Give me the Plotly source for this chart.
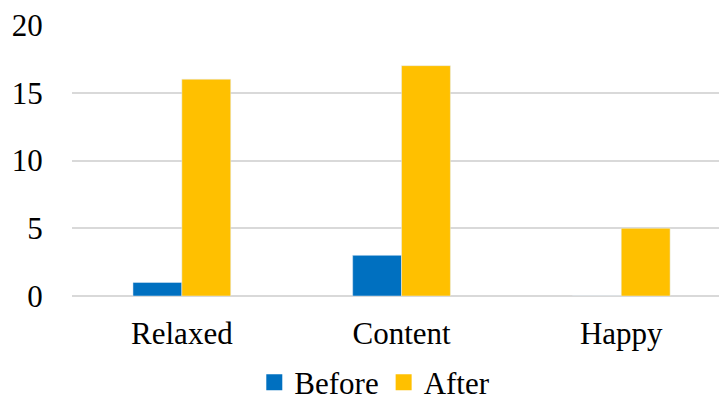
import plotly.graph_objects as go

categories = ["Relaxed", "Content", "Happy"]
before = [1, 3, 0]
after = [16, 17, 5]
y_ticks = [0, 5, 10, 15, 20]
series = [("Before", before, "#0070C0"), ("After", after, "#FFC000")]

font = dict(family="Liberation Serif", size=31, color="black")

fig = go.Figure()
for name, vals, col in series:
    fig.add_trace(go.Bar(name=name, x=categories, y=vals, marker_color=col, showlegend=False))
for name, vals, col in series:
    fig.add_trace(go.Scatter(name=name, x=[None], y=[None], mode="markers",
                             marker=dict(symbol="square", size=16, color=col), showlegend=True))

fig.update_layout(
    width=719, height=403,
    margin=dict(l=72, r=0, t=25, b=107, autoexpand=False),
    paper_bgcolor="white", plot_bgcolor="white",
    font=font,
    barmode="group", bargap=0.555, bargroupgap=0,
    showlegend=True,
    legend=dict(orientation="h", x=0.468, xanchor="center", y=-0.32, yanchor="middle",
                font=font, itemwidth=30, traceorder="normal"),
    xaxis=dict(range=[-0.5, 2.445], showgrid=False, showline=False, zeroline=False, automargin=False,
               ticks="outside", ticklen=10, tickcolor="rgba(0,0,0,0)", tickfont=font),
    yaxis=dict(range=[0, 20], tickvals=y_ticks, showgrid=True, gridcolor="#D9D9D9", gridwidth=2,
               zeroline=True, zerolinecolor="#D9D9D9", zerolinewidth=2, showline=False, automargin=False,
               ticks="outside", ticklen=22, tickcolor="rgba(0,0,0,0)", tickfont=font),
)

fig.write_html("out.html")
